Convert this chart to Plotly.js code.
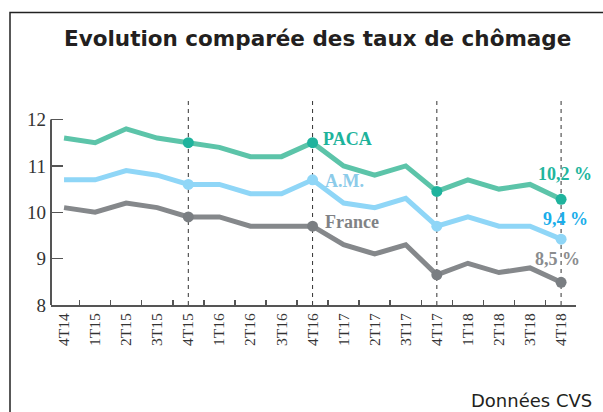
<!DOCTYPE html>
<html>
<head>
<meta charset="utf-8">
<script src="https://cdn.plot.ly/plotly-3.0.1.min.js"></script>
<style>html,body{margin:0;padding:0;background:#fff;}#chart{width:603px;height:412px;}</style>
</head>
<body>
<div id="chart"></div>
<script>
const quarters = ["4T14","1T15","2T15","3T15","4T15","1T16","2T16","3T16","4T16","1T17","2T17","3T17","4T17","1T18","2T18","3T18","4T18"];
const paca   = [11.6,11.5,11.8,11.6,11.5,11.4,11.2,11.2,11.5,11.0,10.8,11.0,10.45,10.7,10.5,10.6,10.28];
const am     = [10.7,10.7,10.9,10.8,10.6,10.6,10.4,10.4,10.7,10.2,10.1,10.3,9.7,9.9,9.7,9.7,9.42];
const france = [10.1,10.0,10.2,10.1,9.9,9.9,9.7,9.7,9.7,9.3,9.1,9.3,8.65,8.9,8.7,8.8,8.49];
const highlightQuarters = ["4T15","4T16","4T17","4T18"];
const yTicks = [8,9,10,11,12];

const idx = highlightQuarters.map(q => quarters.indexOf(q));
function pick(arr){ return idx.map(i => arr[i]); }

const series = [
  {name:"PACA",   y: paca,   line:"#5cc4a9", marker:"#1fb39d"},
  {name:"A.M.",   y: am,     line:"#8fd6f7", marker:"#8fd6f7"},
  {name:"France", y: france, line:"#85888b", marker:"#7a7e82"}
];

const traces = [];
series.forEach(s => {
  traces.push({x: quarters, y: s.y, type:"scatter", mode:"lines",
    line:{color:s.line, width:5}, hoverinfo:"skip", showlegend:false});
});
series.forEach(s => {
  traces.push({x: highlightQuarters, y: pick(s.y), type:"scatter", mode:"markers",
    marker:{color:s.marker, size:11}, hoverinfo:"skip", showlegend:false});
});

// pixel helpers for paper coords (plot area 51..576 x, 101..305 y)
const L=51, R=576, T=101, B=305;
const px = v => (v - L)/(R - L);
const py = v => (B - v)/(B - T);

const shapes = highlightQuarters.map(q => ({
  type:"line", xref:"x", yref:"paper", x0:q, x1:q, y0:0, y1:1,
  line:{color:"#333", width:1, dash:"4px,4px"}, layer:"below"
}));
// y axis line from 8 to 12
shapes.push({type:"line", xref:"paper", yref:"y", x0:0, x1:0, y0:8, y1:12,
  line:{color:"#555", width:2}});
// frame
shapes.push({type:"rect", xref:"paper", yref:"paper",
  x0:px(10), x1:px(640), y0:py(12.5), y1:py(440),
  line:{color:"#222", width:1.5}, fillcolor:"rgba(0,0,0,0)"});

const serifBold = "Liberation Serif";
const annotations = [
  {xref:"paper", yref:"paper", x:px(317), y:py(38), text:"<b>Evolution comparée des taux de chômage</b>",
   showarrow:false, xanchor:"center", yanchor:"middle",
   font:{family:"DejaVu Sans", size:21.5, color:"#231f20"}},
  {xref:"paper", yref:"y", x:px(321), y:11.575, text:"<b>PACA</b>", showarrow:false, xanchor:"left", yanchor:"middle",
   font:{family:serifBold, size:18, color:"#1db39b"}},
  {xref:"paper", yref:"y", x:px(323), y:10.67, text:"<b>A.M.</b>", showarrow:false, xanchor:"left", yanchor:"middle",
   font:{family:serifBold, size:18, color:"#8ccbe9"}},
  {xref:"paper", yref:"y", x:px(323), y:9.78, text:"<b>France</b>", showarrow:false, xanchor:"left", yanchor:"middle",
   font:{family:serifBold, size:18, color:"#808285"}},
  {xref:"paper", yref:"y", x:px(565), y:10.82, text:"<b>10,2 %</b>", showarrow:false, xanchor:"center", yanchor:"middle",
   font:{family:serifBold, size:18, color:"#22b59d"}},
  {xref:"paper", yref:"y", x:px(565.5), y:9.86, text:"<b>9,4 %</b>", showarrow:false, xanchor:"center", yanchor:"middle",
   font:{family:serifBold, size:18, color:"#1aaeea"}},
  {xref:"paper", yref:"y", x:px(557.5), y:9.0, text:"<b>8,5 %</b>", showarrow:false, xanchor:"center", yanchor:"middle",
   font:{family:serifBold, size:18, color:"#8a8c8e"}},
  {xref:"paper", yref:"paper", x:px(594), y:py(400), text:"Données CVS", showarrow:false, xanchor:"right", yanchor:"middle",
   font:{family:"DejaVu Sans", size:18, color:"#231f20"}}
];

const layout = {
  width:603, height:412,
  margin:{l:L, r:603-R, t:T, b:412-B, pad:0},
  paper_bgcolor:"#fff", plot_bgcolor:"#fff",
  showlegend:false,
  xaxis:{type:"category", categoryorder:"array", categoryarray:quarters,
    range:[-0.42,16.48], showgrid:false, zeroline:false,
    showline:true, linecolor:"#555", linewidth:2,
    ticks:"inside", tickson:"boundaries", ticklen:5, tickwidth:1.5, tickcolor:"#555",
    tickangle:-90, tickfont:{family:"Liberation Serif", size:15.5, color:"#333"}},
  yaxis:{range:[8,12.4], tickvals:yTicks, ticktext:yTicks.map(String),
    showgrid:false, zeroline:false, showline:false,
    ticks:"inside", ticklen:12, tickwidth:1.5, tickcolor:"#555",
    ticklabelstandoff:4,
    tickfont:{family:"Liberation Serif", size:19, color:"#333"}},
  shapes: shapes,
  annotations: annotations
};

Plotly.newPlot("chart", traces, layout, {staticPlot:true, displayModeBar:false});
</script>
</body>
</html>
